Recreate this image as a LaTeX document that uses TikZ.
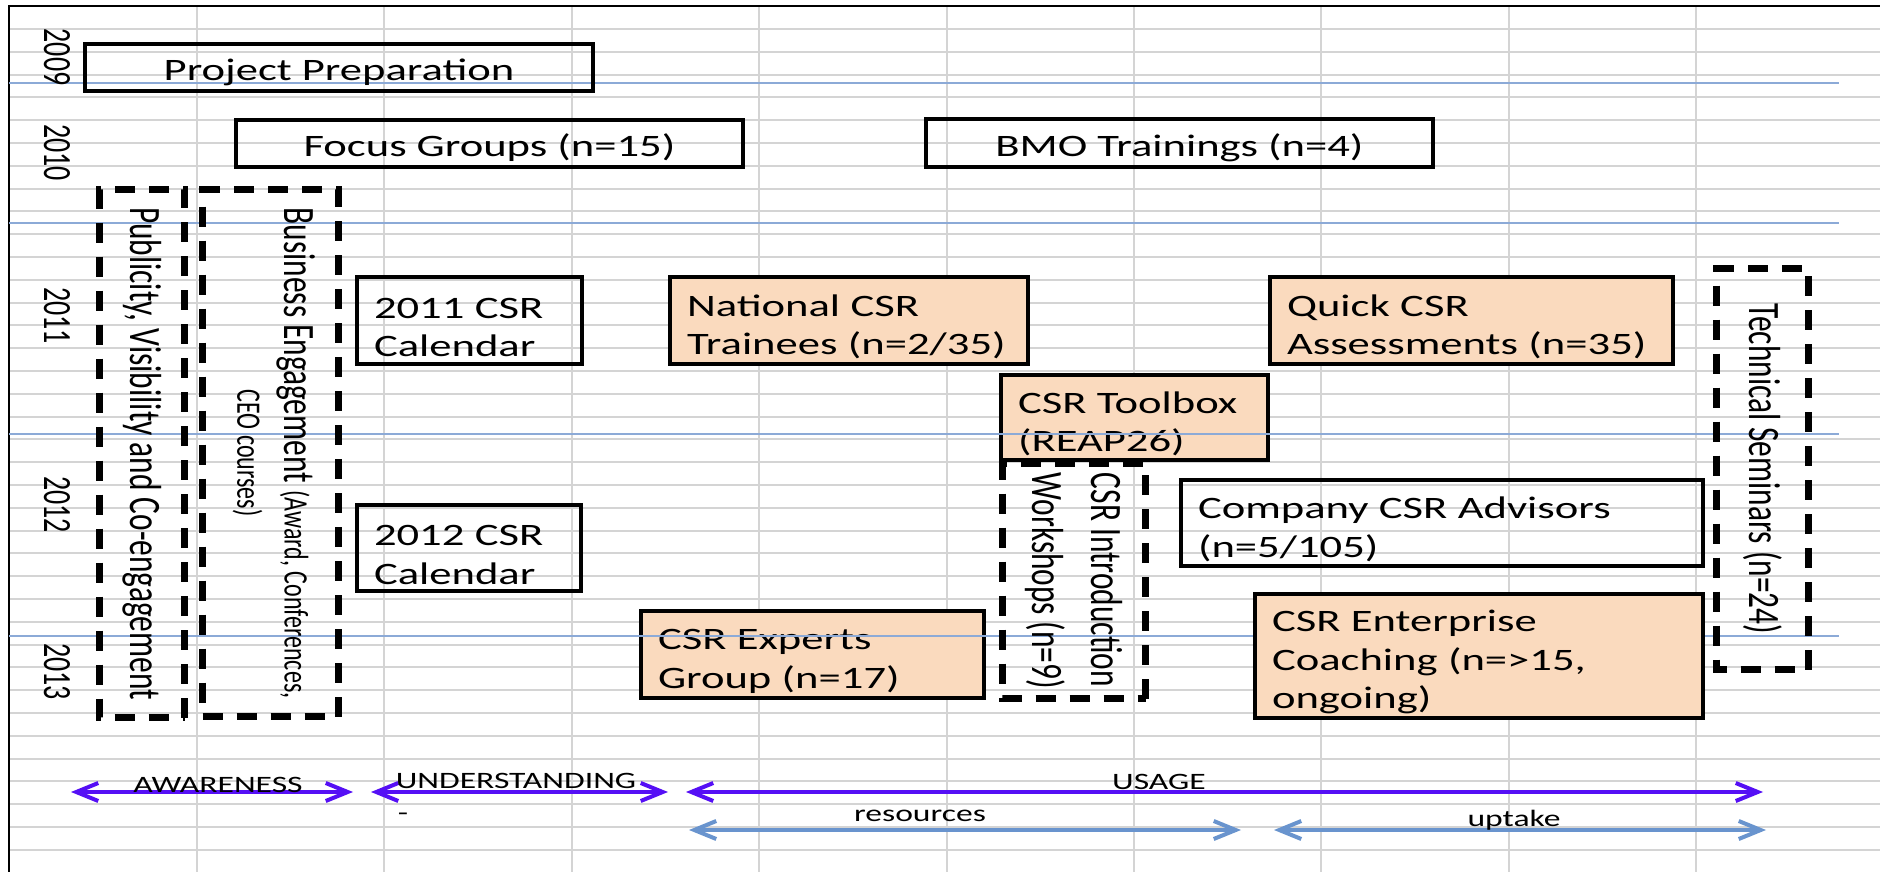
\documentclass[tikz,border=0pt]{standalone}
\usepackage{fontspec}
\usepackage{graphicx}
\setmainfont{Carlito}
\newfontfamily\hfont{Carlito}[FakeStretch=1.43]
\newfontfamily\vfont{Carlito}
\usetikzlibrary{arrows.meta}
\definecolor{peach}{RGB}{250,218,190}
\definecolor{gridgray}{RGB}{212,212,212}
\definecolor{yearblue}{RGB}{140,170,215}
\definecolor{phase}{RGB}{85,15,245}
\definecolor{subphase}{RGB}{105,148,206}
\newcommand\vtext[1]{\scalebox{1}[1.43]{#1}}
\newcommand\nb[1]{\mbox{#1}}
\newcommand\dn{\rule{0pt}{17pt}}
\tikzset{
  gridline/.style={draw=gridgray, line width=1pt},
  yearline/.style={draw=yearblue, line width=1pt},
  sbox/.style={rectangle, draw=black, line width=2pt, inner xsep=8.5pt, inner ysep=0pt,
    font=\hfont\fontsize{15.6}{19.3}\selectfont},
  cbox/.style={sbox, text height=16.6pt, text depth=3.3pt},
  lbox/.style={sbox, align=left},
  pbox/.style={lbox, fill=peach},
  dbox/.style={rectangle, draw=black, line width=3.2pt, dash pattern=on 10pt off 7pt,
    inner sep=0pt, rotate=-90},
  vfont/.style={font=\vfont\fontsize{15.7}{#1}\selectfont},
  yearlabel/.style={rotate=-90, inner sep=0pt, font=\vfont\fontsize{14}{16}\selectfont},
  phaselabel/.style={inner sep=0pt, font=\hfont\fontsize{11.75}{14}\selectfont},
  phasearrow/.style={draw=phase, line width=2pt,
    {Straight Barb[length=11pt,width=9pt]}-{Straight Barb[length=11pt,width=9pt]}},
  subarrow/.style={draw=subphase, line width=2pt,
    {Straight Barb[length=11pt,width=9pt]}-{Straight Barb[length=11pt,width=9pt]}},
}
\begin{document}
\begin{tikzpicture}[x=0.5pt,y=-0.5pt]
\useasboundingbox (0,0) rectangle (1880,872);
\fill[white] (0,0) rectangle (1880,872);
% spreadsheet grid
\foreach \k in {0,...,36} { \draw[gridline] (9,{29+22.8*\k}) -- (1880,{29+22.8*\k}); }
\foreach \k in {0,...,8} { \draw[gridline] ({197+187.4*\k},6) -- ({197+187.4*\k},872); }
% frame
\draw[line width=1pt] (9,872) -- (9,6) -- (1880,6);

% boxes under the year lines
\node[pbox, minimum width=133.5pt, text width=116.5pt, minimum height=42.5pt] (toolbox) at (1134.5,417.5)
  {\dn\nb{CSR Toolbox}\\\nb{(REAP26)}};
\node[pbox, minimum width=171.5pt, text width=154.5pt, minimum height=43.5pt] (experts) at (812.5,654.5)
  {\dn\nb{CSR Experts}\\\nb{Group (n=17)}};

% year lines
\foreach \y in {83,223,434,636} { \draw[yearline] (9,\y) -- (1839,\y); }

% year labels
\node[yearlabel] (y2009) at (57,57) {\vtext{2009}};
\node[yearlabel] (y2010) at (57,152.5) {\vtext{2010}};
\node[yearlabel] (y2011) at (57,315.5) {\vtext{2011}};
\node[yearlabel] (y2012) at (57,504.5) {\vtext{2012}};
\node[yearlabel] (y2013) at (57,671.5) {\vtext{2013}};

% plain boxes
\node[cbox, minimum width=254pt, minimum height=23.5pt] (prep) at (339,67.5) {Project Preparation};
\node[cbox, minimum width=253.5pt, minimum height=23.5pt] (focus) at (489.5,143.5) {Focus Groups (n=15)};
\node[cbox, minimum width=253.5pt, minimum height=24pt] (bmo) at (1179.5,143) {BMO Trainings (n=4)};
\node[lbox, minimum width=112.5pt, text width=95.5pt, minimum height=43.5pt] (cal11) at (469.5,320.5)
  {\dn\nb{2011 CSR}\\\nb{Calendar}};
\node[lbox, minimum width=112pt, text width=95pt, minimum height=43pt] (cal12) at (469,548)
  {\dn\nb{2012 CSR}\\\nb{Calendar}};
\node[pbox, minimum width=179pt, text width=162pt, minimum height=43.5pt] (natl) at (849,320.5)
  {\dn\nb{National CSR}\\\nb{Trainees (n=2/35)}};
\node[pbox, minimum width=201.5pt, text width=184.5pt, minimum height=43.5pt] (quick) at (1471.5,320.5)
  {\dn\nb{Quick CSR}\\\nb{Assessments (n=35)}};
\node[lbox, minimum width=261pt, text width=244pt, minimum height=43pt] (company) at (1442,523)
  {\dn\nb{Company CSR Advisors}\\\nb{(n=5/105)}};
\node[pbox, minimum width=224pt, text width=207pt, minimum height=62pt] (enterprise) at (1479,656)
  {\dn\nb{CSR Enterprise}\\\nb{Coaching (n=>15,}\\\nb{ongoing)}};

% dashed vertical boxes
\node[dbox, vfont=19, minimum width=264pt, minimum height=42.5pt] (pub) at (142,453.5)
  {\vtext{Publicity, Visibility and Co-engagement}};
\node[dbox, vfont=16.5, minimum width=263.5pt, minimum height=68pt] (biz) at (270.5,453)
  {\vtext{\begin{tabular}{@{}c@{}}Business Engagement {\fontsize{12}{14}\selectfont(Award, Conferences,}\\{\fontsize{12}{14}\selectfont CEO courses)}\end{tabular}}};
\node[dbox, vfont=20.5, minimum width=117.5pt, minimum height=71.5pt] (work) at (1074,581)
  {\vtext{\begin{tabular}{@{}l@{}}CSR Introduction\\Workshops (n=9)\end{tabular}}};
\node[dbox, vfont=19, minimum width=200.5pt, minimum height=46pt] (tech) at (1762.5,469)
  {\vtext{Technical Seminars (n=24)}};

% phase arrows
\coordinate (awL) at (71,792);   \coordinate (awR) at (353,792);
\coordinate (unL) at (371,792);  \coordinate (unR) at (668,792);
\coordinate (usL) at (686,792);  \coordinate (usR) at (1763,792);
\coordinate (reL) at (689,830);  \coordinate (reR) at (1241,830);
\coordinate (upL) at (1274,830); \coordinate (upR) at (1766,830);
\draw[phasearrow] (awL) -- (awR);
\draw[phasearrow] (unL) -- (unR);
\draw[phasearrow] (usL) -- (usR);
\draw[subarrow] (reL) -- (reR);
\draw[subarrow] (upL) -- (upR);
\node[phaselabel] (aw) at (218,784.5) {AWARENESS};
\node[phaselabel] (un) at (516,781) {UNDERSTANDING};
\node[phaselabel] (us) at (1159,782) {USAGE};
\node[phaselabel] (re) at (920,816) {resources};
\node[phaselabel] (up) at (1514,820.5) {uptake};
\node[phaselabel] (dash) at (403,817) {-};
\end{tikzpicture}
\end{document}
